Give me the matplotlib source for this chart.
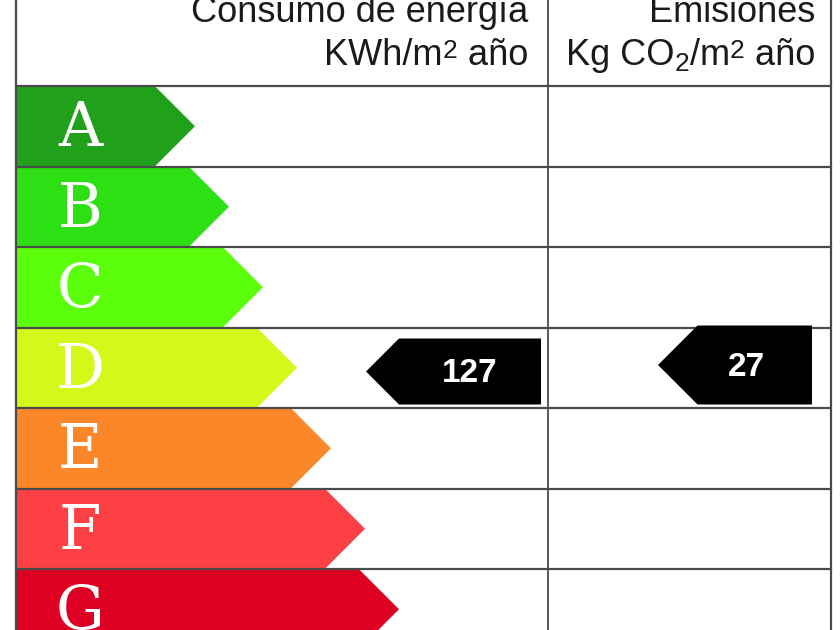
import numpy as np
import matplotlib
matplotlib.use("Agg")
import matplotlib.pyplot as plt
from matplotlib.patches import Polygon

# energy classes, colours and how far each arrow reaches (px)
classes = ["A", "B", "C", "D", "E", "F", "G"]
class_colors = ["#21a01b", "#2ce014", "#5cff0b", "#d5f81b", "#fb8729", "#fc4043", "#de0022"]
arrow_tip = [195, 229, 263, 297, 331, 365, 399]

consumo_value = 127
consumo_class = "D"
emision_value = 27
emision_class = "D"

fig = plt.figure(figsize=(8.4, 6.3), dpi=100)
ax = fig.add_axes([0, 0, 1, 1])
ax.set_xlim(0, 840)
ax.set_ylim(630, 0)
ax.axis("off")
renderer = fig.canvas.get_renderer()

x_left = 16
x_mid = 548
x_right = 831
row_top = 86
row_h = 80.5
line_col = "#4a4a4a"


def header_line(x_end, y, pieces):
    # pieces: (text, size, dy) placed right to left so the line ends at x_end
    x = x_end
    for txt, size, dy in reversed(pieces):
        t = ax.text(x, y + dy, txt, family="Liberation Sans", fontsize=size,
                    color="#1a1a1a", ha="right", va="baseline")
        bb = t.get_window_extent(renderer)
        x = x - bb.width


header_line(528, 22, [("Consumo de energía", 26, 0)])
header_line(528, 65, [("KWh/m", 26, 0), ("2", 19, -7), (" año", 26, 0)])
header_line(815, 22, [("Emisiones", 26, 0)])
header_line(815, 65, [("Kg CO", 26, 0), ("2", 19, 6), ("/m", 26, 0), ("2", 19, -7), (" año", 26, 0)])

# class arrows
for i, (c, col, tip) in enumerate(zip(classes, class_colors, arrow_tip)):
    y0 = row_top + i * row_h
    y1 = y0 + row_h
    ym = (y0 + y1) / 2
    body = tip - row_h / 2
    poly = Polygon([(x_left, y0), (body, y0), (tip, ym), (body, y1), (x_left, y1)],
                   closed=True, facecolor=col, edgecolor="none", zorder=2)
    ax.add_patch(poly)
    ax.text(80, ym + 3, c, family="DejaVu Serif", fontsize=44, color="white",
            ha="center", va="center", zorder=3)

# grid lines
for i in range(len(classes) + 1):
    y = row_top + i * row_h
    ax.plot([x_left, x_right], [y, y], color=line_col, lw=1.6, zorder=4)
ax.plot([x_left, x_left], [0, 630], color=line_col, lw=1.6, zorder=4)
ax.plot([x_mid, x_mid], [0, 630], color=line_col, lw=1.3, zorder=4)
ax.plot([x_right, x_right], [0, 630], color=line_col, lw=1.6, zorder=4)


def black_arrow(tip_x, right_x, top, bottom, label, text_x):
    mid = (top + bottom) / 2
    h = bottom - top
    poly = Polygon([(right_x, top), (tip_x + h / 2, top), (tip_x, mid),
                    (tip_x + h / 2, bottom), (right_x, bottom)],
                   closed=True, facecolor="black", edgecolor="none", zorder=5)
    ax.add_patch(poly)
    ax.text(text_x, mid + 2, str(label), family=["Liberation Sans Narrow", "Liberation Sans"],
            fontsize=24, fontweight="bold", color="white", ha="center", va="center", zorder=6)


ci = classes.index(consumo_class)
ei = classes.index(emision_class)
black_arrow(366, 541, row_top + ci * row_h + 11, row_top + ci * row_h + 77, consumo_value, 470)
black_arrow(658, 812, row_top + ei * row_h - 2, row_top + ei * row_h + 77, emision_value, 746)

fig.savefig("out.png", dpi=100, facecolor="white")
